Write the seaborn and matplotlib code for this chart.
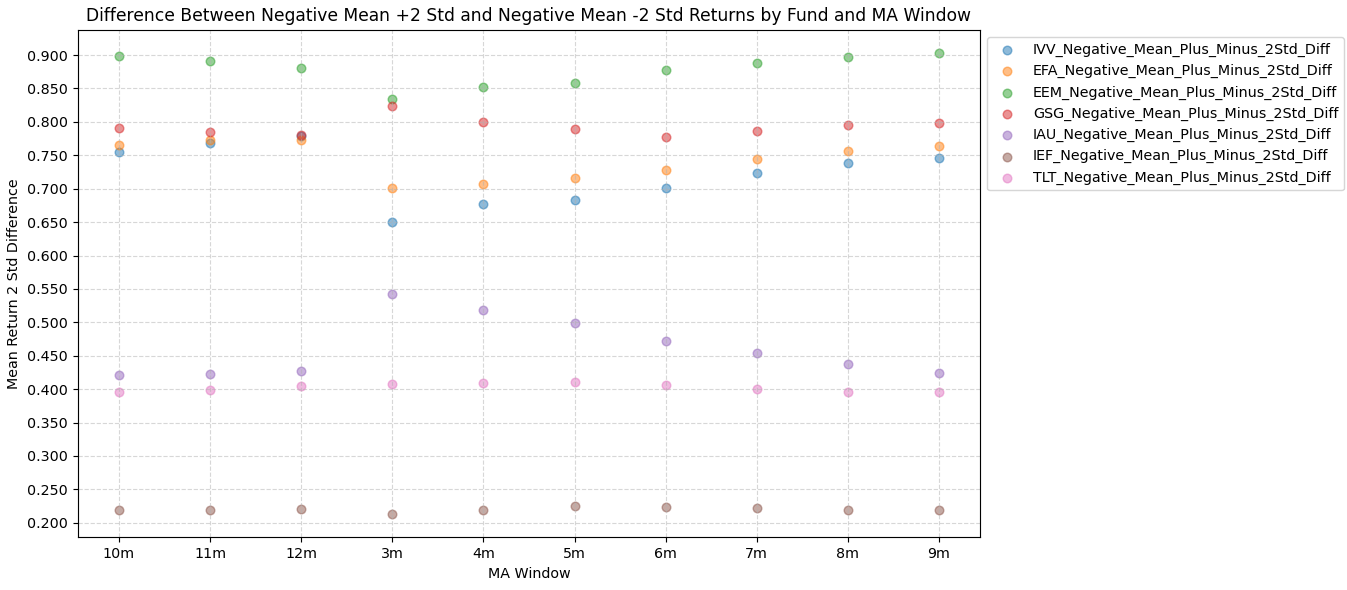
import pandas as pd
import numpy as np
import matplotlib.pyplot as plt
import seaborn as sns
from matplotlib.ticker import MultipleLocator, FormatStrFormatter

windows = ['10m', '11m', '12m', '3m', '4m', '5m', '6m', '7m', '8m', '9m']

ivv = [0.7555, 0.769, 0.779, 0.6505, 0.6765, 0.6825, 0.7005, 0.723, 0.738, 0.7455]
efa = [0.765, 0.7725, 0.7725, 0.7005, 0.7065, 0.7155, 0.7275, 0.744, 0.756, 0.7635]
eem = [0.8985, 0.891, 0.880, 0.834, 0.8515, 0.858, 0.8775, 0.888, 0.8965, 0.903]
gsg = [0.7905, 0.7855, 0.780, 0.823, 0.7995, 0.789, 0.777, 0.786, 0.795, 0.798]
iau = [0.421, 0.4225, 0.4275, 0.543, 0.5185, 0.499, 0.472, 0.454, 0.4375, 0.424]
ief = [0.219, 0.219, 0.2205, 0.2132, 0.219, 0.225, 0.2235, 0.222, 0.219, 0.219]
tlt = [0.3955, 0.3985, 0.4045, 0.4075, 0.409, 0.4105, 0.406, 0.400, 0.3955, 0.3955]

funds = ['IVV', 'EFA', 'EEM', 'GSG', 'IAU', 'IEF', 'TLT']
series = [ivv, efa, eem, gsg, iau, ief, tlt]
colors = sns.color_palette('tab10', len(funds))

dpi = 103
fig, ax = plt.subplots(figsize=(1347 / dpi, 590 / dpi), dpi=dpi)

# one scatter per fund so the legend gets the scatter markers
for f, vals, c in zip(funds, series, colors):
    sns.scatterplot(x=windows, y=vals, color=c, alpha=0.5, s=36,
                    edgecolor='face', linewidth=1, ax=ax,
                    label=f + '_Negative_Mean_Plus_Minus_2Std_Diff')

ax.set_title('Difference Between Negative Mean +2 Std and Negative Mean -2 Std Returns by Fund and MA Window')
ax.set_xlabel('MA Window')
ax.set_ylabel('Mean Return 2 Std Difference')
ax.yaxis.set_major_locator(MultipleLocator(0.05))
ax.yaxis.set_major_formatter(FormatStrFormatter('%.3f'))
ax.grid(True, linestyle='--', alpha=0.5)
ax.legend(bbox_to_anchor=(1, 1), loc='upper left')

fig.subplots_adjust(left=78 / 1347, right=980 / 1347, top=1 - 30 / 590, bottom=1 - 537 / 590)
plt.savefig('out.png', dpi=dpi)
